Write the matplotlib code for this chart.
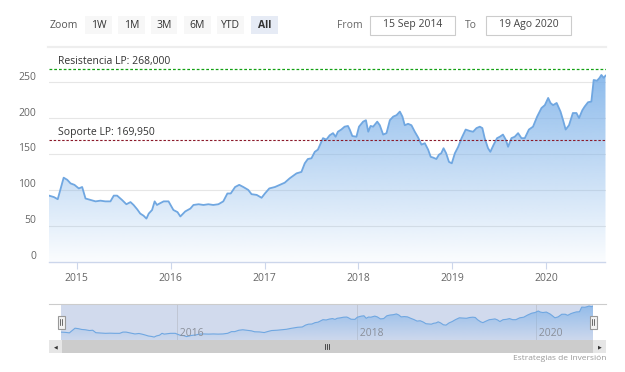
import numpy as np
import pandas as pd
import matplotlib
matplotlib.use("Agg")
import matplotlib.pyplot as plt
import matplotlib.dates as mdates
from matplotlib.patches import Rectangle
from matplotlib.transforms import offset_copy

plt.rcParams['font.family'] = ['Open Sans', 'DejaVu Sans']

# datos
fechas = [
    "2014-09-15", "2014-10-04", "2014-10-19", "2014-11-11", "2014-11-25", "2014-12-08", "2014-12-23",
    "2015-01-09", "2015-01-22", "2015-02-04", "2015-02-23", "2015-03-15", "2015-04-03", "2015-04-22",
    "2015-05-12", "2015-05-25", "2015-06-07", "2015-06-26", "2015-07-13", "2015-07-29", "2015-08-10",
    "2015-08-24", "2015-09-05", "2015-09-18", "2015-09-29", "2015-10-08", "2015-10-21", "2015-10-31",
    "2015-11-09", "2015-11-19", "2015-12-05", "2015-12-24",
    "2016-01-12", "2016-01-28", "2016-02-08", "2016-02-27", "2016-03-18", "2016-03-30", "2016-04-19",
    "2016-05-08", "2016-05-27", "2016-06-15", "2016-07-05", "2016-07-24", "2016-08-09", "2016-08-22",
    "2016-09-08", "2016-09-24", "2016-10-10", "2016-10-29", "2016-11-11", "2016-12-01", "2016-12-20",
    "2017-01-02", "2017-01-19", "2017-02-10", "2017-03-01", "2017-03-20", "2017-04-08", "2017-05-05",
    "2017-05-24", "2017-06-06", "2017-06-18", "2017-07-02", "2017-07-15", "2017-07-27", "2017-08-16",
    "2017-08-29", "2017-09-11", "2017-09-24", "2017-10-04", "2017-10-13", "2017-10-26", "2017-11-08",
    "2017-11-21", "2017-11-28", "2017-12-08", "2017-12-24",
    "2018-01-03", "2018-01-19", "2018-01-30", "2018-02-08", "2018-02-17", "2018-02-27", "2018-03-15",
    "2018-03-25", "2018-04-07", "2018-04-20", "2018-05-03", "2018-05-16", "2018-05-29", "2018-06-11",
    "2018-06-21", "2018-06-30", "2018-07-13", "2018-07-26", "2018-08-08", "2018-08-21", "2018-09-03",
    "2018-09-16", "2018-09-29", "2018-10-09", "2018-10-18", "2018-10-31", "2018-11-10", "2018-11-19",
    "2018-11-28", "2018-12-08", "2018-12-19", "2018-12-30",
    "2019-01-11", "2019-01-24", "2019-02-06", "2019-02-22", "2019-03-10", "2019-03-23", "2019-04-05",
    "2019-04-18", "2019-04-28", "2019-05-07", "2019-05-20", "2019-05-29", "2019-06-11", "2019-06-24",
    "2019-07-05", "2019-07-17", "2019-07-28", "2019-08-06", "2019-08-19", "2019-09-01", "2019-09-14",
    "2019-09-27", "2019-10-10", "2019-10-26", "2019-11-11", "2019-11-27", "2019-12-14", "2019-12-27",
    "2020-01-09", "2020-01-18", "2020-01-28", "2020-02-11", "2020-02-26", "2020-03-07", "2020-03-17",
    "2020-03-30", "2020-04-14", "2020-04-28", "2020-05-08", "2020-05-21", "2020-05-30", "2020-06-12",
    "2020-06-25", "2020-07-04", "2020-07-17", "2020-07-27", "2020-08-03", "2020-08-12", "2020-08-19",
]
valores = [
    92, 90, 87, 117, 114, 109, 107,
    102, 104, 88, 86, 84, 85, 84,
    84, 92, 92, 86, 80, 83, 79,
    73, 67, 64, 60, 67, 72, 84,
    79, 81, 84, 84,
    72, 69, 63, 70, 74, 79, 80,
    79, 80, 79, 80, 84, 95, 95,
    104, 107, 104, 100, 94, 93, 89,
    95, 102, 104, 107, 110, 116, 123,
    125, 137, 143, 144, 153, 156, 172,
    170, 176, 179, 174, 181, 184, 188,
    189, 184, 175, 174,
    188, 195, 197, 181, 189, 188, 195,
    190, 177, 179, 197, 202, 204, 209,
    202, 190, 192, 190, 181, 173, 163,
    165, 156, 146, 145, 143, 149, 151,
    158, 151, 139, 137,
    151, 160, 172, 184, 182, 181, 186,
    188, 186, 172, 158, 153, 163, 172,
    174, 177, 170, 160, 172, 174, 179,
    172, 172, 184, 188, 202, 214, 218,
    228, 221, 218, 221, 209, 197, 184,
    190, 207, 207, 200, 211, 216, 222,
    223, 253, 252, 256, 260, 256, 259,
]
resistencia = 268.000
soporte = 169.950
yticks = [0, 50, 100, 150, 200, 250]
anios = [2015, 2016, 2017, 2018, 2019, 2020]
anios_nav = [2016, 2018, 2020]
botones = ["1W", "1M", "3M", "6M", "YTD", "All"]

W, H = 625, 372


def rect(x0, y0, x1, y1):
    # pixeles -> fraccion de figura
    return [x0 / W, 1 - y1 / H, (x1 - x0) / W, (y1 - y0) / H]


fig = plt.figure(figsize=(W / 100, H / 100), dpi=100)
fig.patch.set_facecolor('white')

x = mdates.date2num(pd.to_datetime(fechas))
y = np.array(valores, dtype=float)
azul = np.array([124, 177, 233]) / 255.0
linea = '#70a7e1'


def area_degradada(ax, x, y, ymin, ymax, a_top, a_bot, lw):
    poly = ax.fill_between(x, y, ymin, facecolor='none', edgecolor='none')
    grad = np.zeros((256, 1, 4))
    grad[:, 0, :3] = azul
    grad[:, 0, 3] = np.linspace(a_top, a_bot, 256)
    im = ax.imshow(grad, extent=[x[0], x[-1], ymin, ymax], aspect='auto',
                   origin='upper', zorder=1, interpolation='bilinear')
    im.set_clip_path(poly.get_paths()[0], transform=ax.transData)
    ax.plot(x, y, color=linea, lw=lw, zorder=2)


# ---------- grafico principal ----------
ax = fig.add_axes(rect(49, 57, 605.5, 261.7))
ax.set_xlim(x[0], x[-1])
ax.set_ylim(0, 285)
area_degradada(ax, x, y, 0, 285, 0.95, 0.03, 1.3)

for t in yticks[1:]:
    ax.axhline(t, color='#e6e6e6', lw=0.8, zorder=0)
ax.set_yticks([])
for s in ['top', 'right', 'left']:
    ax.spines[s].set_visible(False)
ax.spines['bottom'].set_color('#ccd6eb')
ax.spines['bottom'].set_linewidth(1.0)
tr = offset_copy(ax.get_yaxis_transform(), fig=fig, x=-13, y=5, units='dots')
for t in yticks:
    ax.text(0, t, str(t), transform=tr, ha='right', va='center',
            fontsize=7.5, color='#666666')

xt = mdates.date2num(pd.to_datetime([f"{a}-01-01" for a in anios]))
ax.set_xticks(xt)
ax.set_xticklabels([str(a) for a in anios], fontsize=7.5, color='#666666')
ax.tick_params(axis='x', length=5, color='#ccd6eb', pad=3)

ax.axhline(resistencia, color='#13a013', lw=0.9, ls=(0, (2.2, 1.6)), zorder=3)
ax.axhline(soporte, color='#8b1a2a', lw=0.8, ls=(0, (2.2, 1.6)), zorder=3)
trl = offset_copy(ax.get_yaxis_transform(), fig=fig, x=9, y=2, units='dots')
ax.text(0, resistencia, "Resistencia LP: 268,000", transform=trl,
        fontsize=7.5, color='#333333', va='bottom', ha='left')
ax.text(0, soporte, "Soporte LP: 169,950", transform=trl,
        fontsize=7.5, color='#333333', va='bottom', ha='left')

# ---------- selector de rango ----------
fig.text(50 / W, 1 - 25 / H, "Zoom", fontsize=7.5, color='#555555', va='center')
cajas = [(85, 112), (118, 145), (151, 177), (184, 211), (217, 244), (251, 278)]
for nombre, (b0, b1) in zip(botones, cajas):
    sel = nombre == "All"
    fig.patches.append(Rectangle((b0 / W, 1 - 34 / H), (b1 - b0) / W, 18.5 / H,
                                 transform=fig.transFigure,
                                 facecolor='#e6ebf5' if sel else '#f7f7f7',
                                 edgecolor='none'))
    fig.text((b0 + b1) / 2 / W, 1 - 25 / H, nombre, fontsize=7.5,
             color='#333333', ha='center', va='center',
             fontweight='bold' if sel else 'normal')

fig.text(337 / W, 1 - 25 / H, "From", fontsize=7.5, color='#666666', va='center')
fig.text(465 / W, 1 - 25 / H, "To", fontsize=7.5, color='#666666', va='center')
for (b0, b1), txt in [((370, 455), "15 Sep 2014"), ((486, 571), "19 Ago 2020")]:
    fig.patches.append(Rectangle((b0 / W, 1 - 34.5 / H), (b1 - b0) / W, 19 / H,
                                 transform=fig.transFigure, facecolor='white',
                                 edgecolor='#cccccc', lw=0.8))
    fig.text((b0 + b1) / 2 / W, 1 - 25 / H, txt, fontsize=7.5, color='#444444',
             ha='center', va='center')

fig.add_artist(plt.Line2D([48 / W, 606 / W], [1 - 46.5 / H, 1 - 46.5 / H],
                          transform=fig.transFigure, color='#eeeeee', lw=1.6))

# ---------- navegador ----------
fig.add_artist(plt.Line2D([49 / W, 606 / W], [1 - 304 / H, 1 - 304 / H],
                          transform=fig.transFigure, color='#cccccc', lw=0.8))
nav = fig.add_axes(rect(61, 304, 593, 340))
nav.set_xlim(x[0], x[-1])
nav.set_ylim(41, 273)
nav.set_facecolor('#d1daed')
area_degradada(nav, x, y, 41, 273, 0.75, 0.05, 0.8)
xn = mdates.date2num(pd.to_datetime([f"{a}-01-01" for a in anios_nav]))
for xv, a in zip(xn, anios_nav):
    nav.axvline(xv, color='#c0c6d4', lw=0.7, zorder=0.5)
    nav.text(xv, 48, f" {a}", fontsize=7.5, color='#8a8f99', ha='left',
             va='bottom', zorder=3)
nav.set_xticks([])
nav.set_yticks([])
for s in nav.spines.values():
    s.set_visible(False)

# asas del navegador
for hx in [61, 593]:
    fig.patches.append(Rectangle(((hx - 3.5) / W, 1 - 328.5 / H), 7 / W, 13 / H,
                                 transform=fig.transFigure, facecolor='#f2f2f2',
                                 edgecolor='#999999', lw=0.8, zorder=5))
    for dx in [-1, 1]:
        fig.add_artist(plt.Line2D([(hx + dx) / W] * 2, [1 - 325 / H, 1 - 319 / H],
                                  transform=fig.transFigure, color='#333333',
                                  lw=0.5, zorder=6))

# barra de desplazamiento
fig.patches.append(Rectangle((49 / W, 1 - 353 / H), 557 / W, 13 / H,
                             transform=fig.transFigure, facecolor='#f2f2f2',
                             edgecolor='none'))
fig.patches.append(Rectangle((61 / W, 1 - 353 / H), 532 / W, 13 / H,
                             transform=fig.transFigure, facecolor='#cccccc',
                             edgecolor='none'))
for b0 in [49, 593]:
    fig.patches.append(Rectangle((b0 / W, 1 - 353 / H), 13 / W, 13 / H,
                                 transform=fig.transFigure, facecolor='#e6e6e6',
                                 edgecolor='none'))
fig.text(55.5 / W, 1 - 346.5 / H, "\u25c0", fontsize=3.5, color='#333333',
         ha='center', va='center', family='DejaVu Sans')
fig.text(599.5 / W, 1 - 346.5 / H, "\u25b6", fontsize=3.5, color='#333333',
         ha='center', va='center', family='DejaVu Sans')
for dx in [-2, 0, 2]:
    fig.add_artist(plt.Line2D([(327 + dx) / W] * 2, [1 - 349 / H, 1 - 344 / H],
                              transform=fig.transFigure, color='#333333', lw=0.6))

fig.text(606 / W, 1 - 358.5 / H, "Estrategias de Inversión", fontsize=6,
         color='#999999', ha='right', va='center')

fig.savefig("out.png", dpi=100, facecolor='white')
